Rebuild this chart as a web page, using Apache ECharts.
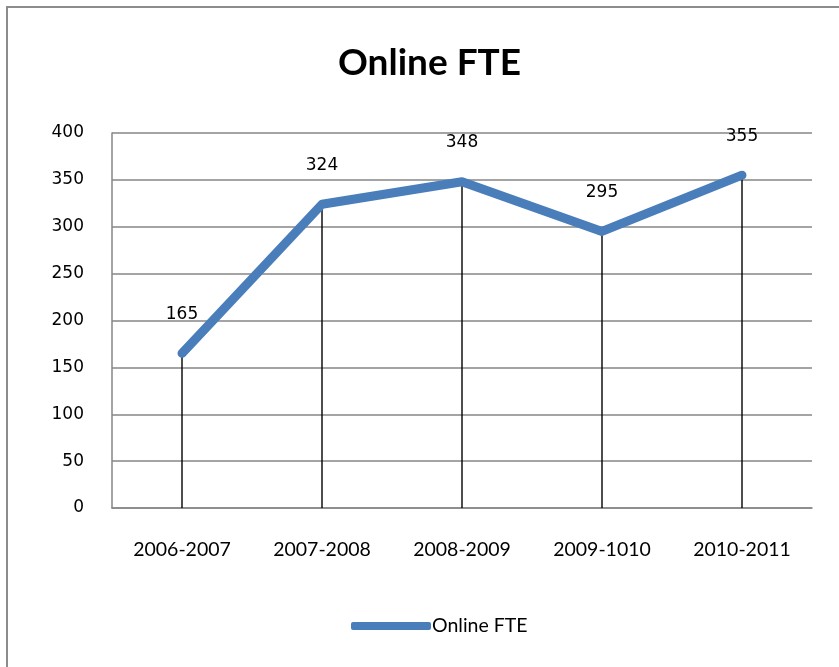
<!DOCTYPE html>
<html>
<head>
<meta charset="utf-8">
<script src="https://cdn.jsdelivr.net/npm/echarts@6/dist/echarts.min.js"></script>
<style>
    html, body { margin: 0; padding: 0; background: #fff; }
    #chart { width: 839px; height: 667px; }
</style>
</head>
<body>
<div id="chart"></div>
<script>
    // 数据
    var years = ["2006-2007", "2007-2008", "2008-2009", "2009-1010", "2010-2011"];
    var fteValues = [165, 324, 348, 295, 355];
    var yTicks = [0, 50, 100, 150, 200, 250, 300, 350, 400];

    var chartObj = echarts.init(document.getElementById("chart"));

    var option = {
        backgroundColor: "#fff",
        animation: false,
        graphic: [{
            type: "rect",
            shape: { x: 7, y: 7, width: 850, height: 680 },
            style: { fill: "none", stroke: "#8c8c8c", lineWidth: 2 }
        }],
        title: {
            text: "Online FTE",
            left: 333,
            top: 40,
            textStyle: { fontFamily: "Lato", fontWeight: "bold", fontSize: 37, color: "#000" }
        },
        legend: {
            bottom: 26,
            left: 346,
            itemWidth: 80,
            itemHeight: 8,
            itemGap: 4,
            data: [{ name: "Online FTE", icon: "roundRect" }],
            textStyle: { fontFamily: "Lato", fontSize: 19.5, color: "#000", padding: [0, 0, 0, -4] }
        },
        grid: {
            left: 112,
            right: 27,
            top: 133,
            bottom: 159,
            containLabel: false
        },
        xAxis: {
            type: "category",
            data: years,
            boundaryGap: true,
            axisTick: { show: false },
            axisLine: { lineStyle: { color: "#868686", width: 1.5 } },
            axisLabel: { fontFamily: "Lato", fontSize: 19.5, color: "#000", margin: 32 }
        },
        yAxis: {
            type: "value",
            min: yTicks[0],
            max: yTicks[yTicks.length - 1],
            interval: 50,
            axisLine: { show: true, lineStyle: { color: "#868686", width: 1.5 } },
            axisTick: { show: false },
            splitLine: { lineStyle: { color: "#868686", width: 1.5 } },
            axisLabel: { fontFamily: "DejaVu Sans", fontSize: 17, color: "#000", margin: 28 }
        },
        series: [
            {
                // 垂直线
                name: "drop",
                type: "bar",
                data: fteValues,
                barWidth: 1.4,
                itemStyle: { color: "#000" },
                silent: true,
                z: 1
            },
            {
                name: "Online FTE",
                type: "line",
                data: fteValues,
                symbol: "circle",
                symbolSize: 1,
                showSymbol: true,
                lineStyle: { color: "#4A7EBB", width: 9, cap: "round", join: "round" },
                itemStyle: { color: "#4A7EBB" },
                label: {
                    show: true,
                    position: "top",
                    distance: 30,
                    fontFamily: "DejaVu Sans",
                    fontSize: 17,
                    color: "#000"
                },
                z: 3
            }
        ]
    };

    chartObj.setOption(option, true);
</script>
</body>
</html>
